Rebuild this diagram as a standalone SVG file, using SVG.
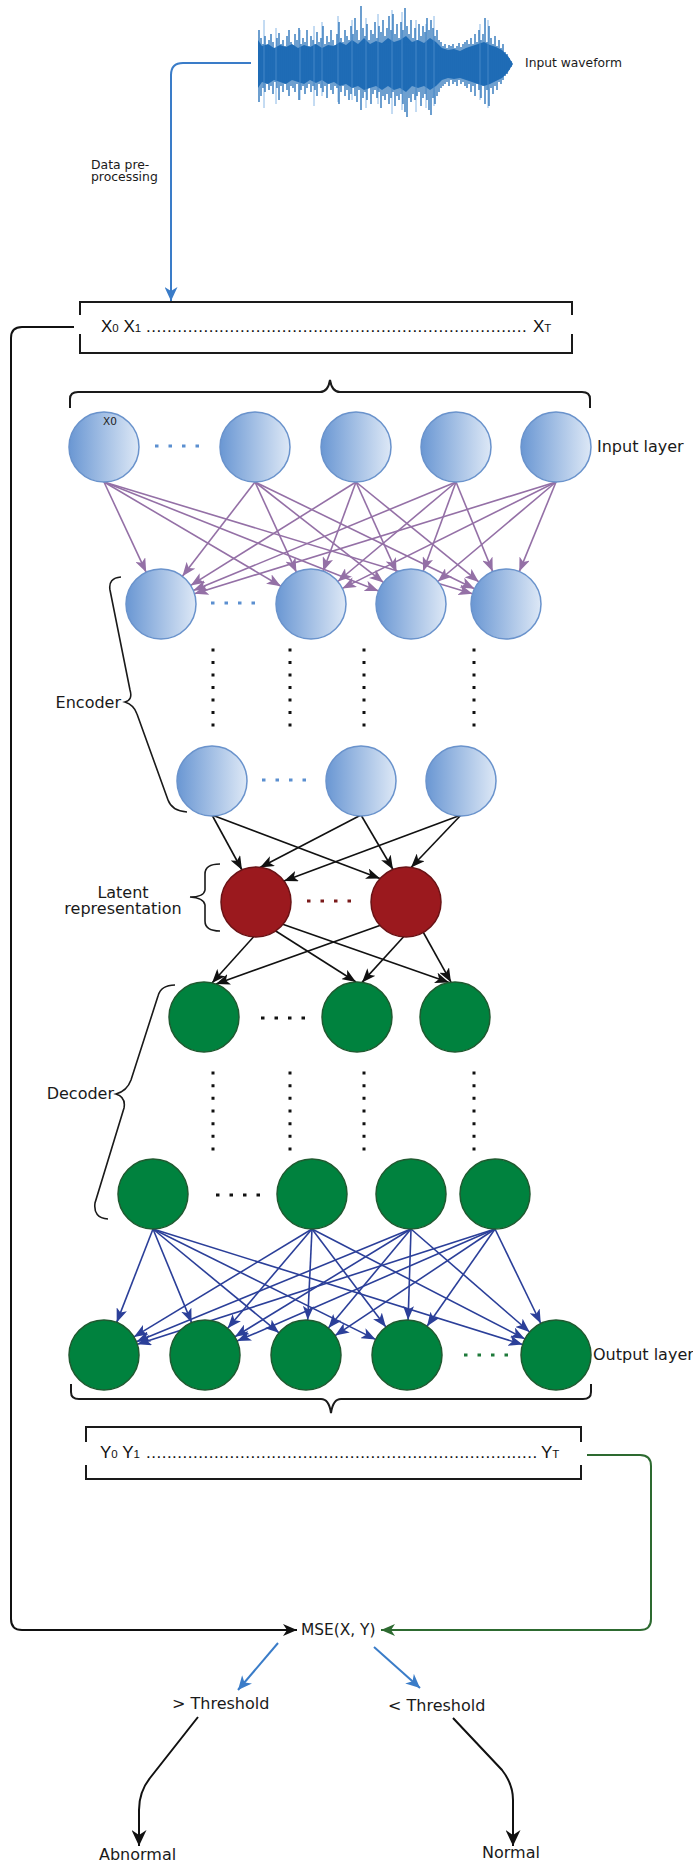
<svg xmlns="http://www.w3.org/2000/svg" width="693" height="1865" viewBox="0 0 693 1865">
<defs>
  <linearGradient id="gBlue" x1="0" y1="0" x2="1" y2="0">
    <stop offset="0" stop-color="#6a97d3"/>
    <stop offset="1" stop-color="#dde8f6"/>
  </linearGradient>
  <marker id="aPur" viewBox="0 0 14 11" refX="14" refY="5.5" markerWidth="14" markerHeight="11" markerUnits="userSpaceOnUse" orient="auto">
    <path d="M0,0 L14,5.5 L0,11 L3.5,5.5 z" fill="#9470a6"/>
  </marker>
  <marker id="aBlk" viewBox="0 0 14 11" refX="14" refY="5.5" markerWidth="14" markerHeight="11" markerUnits="userSpaceOnUse" orient="auto">
    <path d="M0,0 L14,5.5 L0,11 L3.5,5.5 z" fill="#111"/>
  </marker>
  <marker id="aNavy" viewBox="0 0 14 11" refX="14" refY="5.5" markerWidth="14" markerHeight="11" markerUnits="userSpaceOnUse" orient="auto">
    <path d="M0,0 L14,5.5 L0,11 L3.5,5.5 z" fill="#2b3f99"/>
  </marker>
  <marker id="aBlkL" viewBox="0 0 14 12" refX="14" refY="6" markerWidth="14" markerHeight="12" markerUnits="userSpaceOnUse" orient="auto">
    <path d="M0,0 L14,6 L0,12 L4,6 z" fill="#111"/>
  </marker>
  <marker id="aBlkXL" viewBox="0 0 16 15" refX="16" refY="7.5" markerWidth="16" markerHeight="15" markerUnits="userSpaceOnUse" orient="auto">
    <path d="M0,0 L16,7.5 L0,15 L5,7.5 z" fill="#111"/>
  </marker>
  <marker id="aGrn" viewBox="0 0 14 12" refX="14" refY="6" markerWidth="14" markerHeight="12" markerUnits="userSpaceOnUse" orient="auto">
    <path d="M0,0 L14,6 L0,12 L4,6 z" fill="#2d6a30"/>
  </marker>
  <marker id="aSky" viewBox="0 0 14 13" refX="14" refY="6.5" markerWidth="14" markerHeight="13" markerUnits="userSpaceOnUse" orient="auto">
    <path d="M0,0 L14,6.5 L0,13 L4,6.5 z" fill="#3a7cc8"/>
  </marker>
</defs>
<style>
  .t { font-family: "DejaVu Sans", sans-serif; font-size: 16px; fill: #1a1a1a; }
  .seq { font-family: "Liberation Sans", Arial, sans-serif; font-size: 17px; fill: #111; }
  .sub { font-size: 11.5px; }
  .nb { fill: url(#gBlue); stroke: #6a93cc; stroke-width: 1.5; }
  .nr { fill: #9b191e; stroke: #6a1215; stroke-width: 1.5; }
  .ng { fill: #00823e; stroke: #1f5a30; stroke-width: 1.5; }
  .bk { fill: none; stroke: #1a1a1a; stroke-width: 2; }
  .pur line { stroke: #9470a6; stroke-width: 1.6; marker-end: url(#aPur); }
  .blk line { stroke: #111; stroke-width: 1.6; marker-end: url(#aBlk); }
  .navy line { stroke: #2b3f99; stroke-width: 1.6; marker-end: url(#aNavy); }
  .hd { fill: none; stroke-width: 3; stroke-dasharray: 3.5 10; }
  .vd { fill: none; stroke: #111; stroke-width: 3; }
</style>

<!-- input waveform -->
<g id="waveform">
  <path fill="#1f6cb6" d="M258,40 262,46 268,44 274,48 280,45 286,47 292,44 298,48 304,45 310,47 316,44 322,48 328,45 334,46 340,42 346,45 352,40 358,44 364,38 370,44 376,41 382,43 388,38 394,42 400,40 406,36 412,42 418,40 424,43 430,38 436,42 442,48 448,50 454,49 460,51 466,48 472,46 478,44 484,42 490,45 496,47 502,50 508,56 513,64 508,72 502,78 496,81 490,84 484,86 478,84 472,82 466,80 460,78 454,79 448,78 442,80 436,86 430,90 424,86 418,88 412,86 406,92 400,88 394,90 388,86 382,90 376,86 370,88 364,90 358,86 352,88 346,84 340,86 334,82 328,84 322,80 316,83 310,80 304,84 298,82 292,80 286,84 280,82 274,80 268,84 262,82 258,88 z"/>
  <path fill="none" stroke="#8ab8e6" stroke-width="1" d="M264 20V108M276 28V104M300 30V100M314 26V106M322 22V96M338 16V102M352 20V100M366 18V108M378 14V104M392 10V114M402 12V110M416 20V112M426 24V108M434 16V106M480 24V100M488 20V108"/>
  <path fill="none" stroke="#1f6cb6" stroke-width="1.3" d="M259 30V102M261 38V96M263 44V88M265 36V92M267 46V84M269 40V90M271 34V86M273 42V94M275 48V82M277 38V88M279 33V100M281 44V86M283 40V92M285 46V84M287 36V90M289 30V96M291 42V86M293 45V88M295 34V92M297 40V84M299 28V100M301 44V90M303 38V86M305 42V94M307 30V88M309 46V84M311 36V92M313 40V86M315 44V90M317 32V96M319 42V84M321 38V88M323 26V92M325 44V86M327 36V98M329 42V84M331 30V90M333 40V94M335 45V86M337 34V88M339 22V104M341 38V92M343 42V86M345 30V96M347 36V90M349 40V100M351 26V94M353 34V88M355 18V96M357 30V102M359 40V90M361 6V110M363 28V98M365 36V92M367 24V100M369 40V88M371 30V104M373 34V94M375 22V90M377 38V98M379 26V92M381 32V108M383 20V96M385 36V100M387 28V94M389 16V104M391 30V98M393 14V92M395 34V106M397 24V96M399 38V100M401 22V94M403 30V104M405 8V112M407 26V117M409 34V98M411 20V102M413 38V94M415 28V100M417 40V96M419 24V92M421 36V106M423 26V98M425 32V94M427 18V100M429 30V110M431 20V115M433 28V98M435 36V104M437 30V96M439 40V92M441 42V88M443 46V86M445 44V84M447 48V82M449 45V86M451 46V80M453 44V84M455 48V82M457 46V86M459 43V80M461 47V84M463 44V82M465 42V86M467 40V88M469 44V84M471 38V92M473 44V86M475 34V96M477 42V84M479 30V90M481 40V98M483 34V86M485 18V104M487 42V90M489 26V106M491 38V88M493 44V94M495 36V86M497 46V90M499 40V82M501 48V84M503 44V80M505 52V76M507 54V74M509 58V70M511 61V67"/>
  <text class="t" x="525" y="67" style="font-size:12.3px">Input waveform</text>
</g>

<!-- connectors -->
<g id="connectors">
  <path d="M251 63 H183 Q171 63 171 75 V301" fill="none" stroke="#3a7cc8" stroke-width="2" marker-end="url(#aSky)"/>
  <path d="M74 327 H22 Q11 327 11 338 V1619 Q11 1630 22 1630 H297" fill="none" stroke="#111" stroke-width="2" marker-end="url(#aBlkL)"/>
  <path d="M587 1455 H640 Q651 1455 651 1466 V1619 Q651 1630 640 1630 H381" fill="none" stroke="#2d6a30" stroke-width="2" marker-end="url(#aGrn)"/>
  <line x1="278" y1="1643" x2="238" y2="1690" stroke="#3a7cc8" stroke-width="2" marker-end="url(#aSky)"/>
  <line x1="374" y1="1647" x2="420" y2="1688" stroke="#3a7cc8" stroke-width="2" marker-end="url(#aSky)"/>
  <path d="M198 1717 L150 1778 Q139 1792 139 1810 V1846" fill="none" stroke="#111" stroke-width="2" marker-end="url(#aBlkXL)"/>
  <path d="M453 1718 L502 1770 Q513 1784 513 1800 V1846" fill="none" stroke="#111" stroke-width="2" marker-end="url(#aBlkXL)"/>

  <g class="pur">
    <line x1="104" y1="482" x2="146.2" y2="572.3"/>
    <line x1="104" y1="482" x2="280.9" y2="586.2"/>
    <line x1="104" y1="482" x2="378.5" y2="591.1"/>
    <line x1="104" y1="482" x2="472.5" y2="593.8"/>
    <line x1="255" y1="482" x2="182.4" y2="576.3"/>
    <line x1="255" y1="482" x2="296.4" y2="572.2"/>
    <line x1="255" y1="482" x2="383.4" y2="582.4"/>
    <line x1="255" y1="482" x2="474.5" y2="588.7"/>
    <line x1="356" y1="482" x2="190.7" y2="585.4"/>
    <line x1="356" y1="482" x2="323.1" y2="571.2"/>
    <line x1="356" y1="482" x2="396.6" y2="572.1"/>
    <line x1="356" y1="482" x2="478.8" y2="581.9"/>
    <line x1="456" y1="482" x2="193.3" y2="590.6"/>
    <line x1="456" y1="482" x2="337.8" y2="581.5"/>
    <line x1="456" y1="482" x2="423.1" y2="571.2"/>
    <line x1="456" y1="482" x2="492.7" y2="571.6"/>
    <line x1="556" y1="482" x2="194.4" y2="593.7"/>
    <line x1="556" y1="482" x2="342.3" y2="588.4"/>
    <line x1="556" y1="482" x2="437.8" y2="581.5"/>
    <line x1="556" y1="482" x2="519.3" y2="571.6"/>
  </g>
  <g class="blk">
    <line x1="212" y1="815" x2="242" y2="870"/>
    <line x1="212" y1="815" x2="380" y2="878.6"/>
    <line x1="361" y1="815" x2="260" y2="867.5"/>
    <line x1="361" y1="815" x2="393" y2="869.5"/>
    <line x1="461" y1="815" x2="284" y2="881"/>
    <line x1="461" y1="815" x2="411" y2="867.5"/>
    <line x1="257" y1="933" x2="212" y2="983"/>
    <line x1="271" y1="928" x2="356" y2="982"/>
    <line x1="282" y1="924" x2="449" y2="982.5"/>
    <line x1="384" y1="924" x2="216" y2="984"/>
    <line x1="407" y1="933" x2="362" y2="982.4"/>
    <line x1="422" y1="930" x2="451" y2="982.2"/>
  </g>
  <g class="navy">
    <line x1="153" y1="1229" x2="116.7" y2="1322.4"/>
    <line x1="153" y1="1229" x2="191.6" y2="1322.6"/>
    <line x1="153" y1="1229" x2="279" y2="1332.8"/>
    <line x1="153" y1="1229" x2="375.6" y2="1339.4"/>
    <line x1="153" y1="1229" x2="522.6" y2="1344.6"/>
    <line x1="312" y1="1229" x2="133.9" y2="1336.9"/>
    <line x1="312" y1="1229" x2="227.7" y2="1328.3"/>
    <line x1="312" y1="1229" x2="307.7" y2="1320"/>
    <line x1="312" y1="1229" x2="385.9" y2="1327.1"/>
    <line x1="312" y1="1229" x2="524.9" y2="1338.9"/>
    <line x1="411" y1="1229" x2="136.4" y2="1341.7"/>
    <line x1="411" y1="1229" x2="234.9" y2="1336.7"/>
    <line x1="411" y1="1229" x2="328.4" y2="1328.1"/>
    <line x1="411" y1="1229" x2="408.1" y2="1320"/>
    <line x1="411" y1="1229" x2="529.6" y2="1332"/>
    <line x1="495" y1="1229" x2="137.3" y2="1344.3"/>
    <line x1="495" y1="1229" x2="237.1" y2="1341.1"/>
    <line x1="495" y1="1229" x2="335.1" y2="1335.6"/>
    <line x1="495" y1="1229" x2="427" y2="1326.3"/>
    <line x1="495" y1="1229" x2="540.8" y2="1323.5"/>
  </g>
</g>

<!-- preprocessing label -->
<g id="preprocess">
  <text class="t" style="font-size:12.4px" x="91" y="169">Data pre-</text>
  <text class="t" style="font-size:12.4px" x="91" y="181">processing</text>
</g>

<!-- input sequence -->
<g id="seqX">
  <path class="bk" d="M80 315 V302 H572 V315 M80 334 V353 H572 V334"/>
  <text class="seq" x="101" y="332">X<tspan class="sub">0</tspan> X<tspan class="sub">1</tspan></text>
  <text class="seq" x="146" y="332" letter-spacing="0.5">.........................................................................</text>
  <text class="seq" x="533" y="332">X<tspan class="sub">T</tspan></text>
</g>

<path id="braceTop" class="bk" d="M70 408 V399 Q70 392 78 392 H320 Q328 392 330 380 Q332 392 340 392 H582 Q590 392 590 399 V408"/>

<!-- input layer -->
<g id="in1"><circle class="nb" cx="104" cy="447" r="35"/><text x="103" y="425" style="font-family:'DejaVu Sans',sans-serif;font-size:10.5px;fill:#222">X0</text></g>
<g id="in2"><circle class="nb" cx="255" cy="447" r="35"/></g>
<g id="in3"><circle class="nb" cx="356" cy="447" r="35"/></g>
<g id="in4"><circle class="nb" cx="456" cy="447" r="35"/></g>
<g id="in5"><circle class="nb" cx="556" cy="447" r="35"/></g>
<line class="hd" stroke="#5b8fd0" x1="155" y1="446" x2="200" y2="446"/>
<text class="t" x="597" y="452">Input layer</text>

<!-- encoder -->
<g id="enc1a"><circle class="nb" cx="161" cy="604" r="35"/></g>
<g id="enc1b"><circle class="nb" cx="311" cy="604" r="35"/></g>
<g id="enc1c"><circle class="nb" cx="411" cy="604" r="35"/></g>
<g id="enc1d"><circle class="nb" cx="506" cy="604" r="35"/></g>
<line class="hd" stroke="#5b8fd0" x1="211" y1="603" x2="256" y2="603"/>

<g id="encDots">
  <line class="vd" stroke-dasharray="3 9.5" x1="213" y1="648.5" x2="213" y2="726.5"/>
  <line class="vd" stroke-dasharray="3 9.5" x1="290" y1="648.5" x2="290" y2="726.5"/>
  <line class="vd" stroke-dasharray="3 9.5" x1="364" y1="648.5" x2="364" y2="726.5"/>
  <line class="vd" stroke-dasharray="3 9.5" x1="474" y1="648.5" x2="474" y2="726.5"/>
</g>

<g id="enc2a"><circle class="nb" cx="212" cy="781" r="35"/></g>
<g id="enc2b"><circle class="nb" cx="361" cy="781" r="35"/></g>
<g id="enc2c"><circle class="nb" cx="461" cy="781" r="35"/></g>
<line class="hd" stroke="#5b8fd0" x1="262" y1="780" x2="307" y2="780"/>

<g id="encoderLabel">
  <path class="bk" style="stroke-width:1.6" d="M121 577 Q108 578 110 590 L130 690 Q133 700 125 702 Q134 705 137 714 L168 800 Q172 811 187 812"/>
  <text class="t" x="121" y="708" text-anchor="end">Encoder</text>
</g>

<!-- latent representation -->
<g id="lat1"><circle class="nr" cx="256" cy="902" r="35"/></g>
<g id="lat2"><circle class="nr" cx="406" cy="902" r="35"/></g>
<line class="hd" stroke="#7a1a1a" x1="307" y1="901" x2="352" y2="901"/>
<g id="latentLabel">
  <path class="bk" style="stroke-width:1.6" d="M220 864 Q205 864 205 874 V890 Q204 897 190 897 Q204 898 205 905 V921 Q205 931 220 931"/>
  <text class="t" x="123" y="898" text-anchor="middle">Latent</text>
  <text class="t" x="123" y="914" text-anchor="middle">representation</text>
</g>

<!-- decoder -->
<g id="dec1a"><circle class="ng" cx="204" cy="1017" r="35"/></g>
<g id="dec1b"><circle class="ng" cx="357" cy="1017" r="35"/></g>
<g id="dec1c"><circle class="ng" cx="455" cy="1017" r="35"/></g>
<line class="hd" stroke="#111" x1="261" y1="1018" x2="306" y2="1018"/>

<g id="decDots">
  <line class="vd" stroke-dasharray="3 9.67" x1="213" y1="1071.5" x2="213" y2="1150.5"/>
  <line class="vd" stroke-dasharray="3 9.67" x1="290" y1="1071.5" x2="290" y2="1150.5"/>
  <line class="vd" stroke-dasharray="3 9.67" x1="364" y1="1071.5" x2="364" y2="1150.5"/>
  <line class="vd" stroke-dasharray="3 9.67" x1="474" y1="1071.5" x2="474" y2="1150.5"/>
</g>

<g id="dec2a"><circle class="ng" cx="153" cy="1194" r="35"/></g>
<g id="dec2b"><circle class="ng" cx="312" cy="1194" r="35"/></g>
<g id="dec2c"><circle class="ng" cx="411" cy="1194" r="35"/></g>
<g id="dec2d"><circle class="ng" cx="495" cy="1194" r="35"/></g>
<line class="hd" stroke="#111" x1="216" y1="1195" x2="261" y2="1195"/>

<g id="decoderLabel">
  <path class="bk" style="stroke-width:1.6" d="M175 985 Q161 985 158 996 L131 1080 Q127 1091 116 1094 Q126 1097 124 1108 L95 1203 Q93 1218 108 1219"/>
  <text class="t" x="114" y="1099" text-anchor="end">Decoder</text>
</g>

<!-- output layer -->
<g id="out1"><circle class="ng" cx="104" cy="1355" r="35"/></g>
<g id="out2"><circle class="ng" cx="205" cy="1355" r="35"/></g>
<g id="out3"><circle class="ng" cx="306" cy="1355" r="35"/></g>
<g id="out4"><circle class="ng" cx="407" cy="1355" r="35"/></g>
<g id="out5"><circle class="ng" cx="556" cy="1355" r="35"/></g>
<line class="hd" stroke="#1e7a3a" x1="464" y1="1355" x2="509" y2="1355"/>
<text class="t" x="593" y="1360">Output layer</text>

<path id="braceBottom" class="bk" d="M71 1384 V1392 Q71 1399 79 1399 H321 Q329 1399 331 1413 Q333 1399 341 1399 H583 Q591 1399 591 1392 V1384"/>

<!-- reconstructed sequence -->
<g id="seqY">
  <path class="bk" d="M86 1442 V1427 H581 V1442 M86 1465 V1479 H581 V1465"/>
  <text class="seq" x="100" y="1458">Y<tspan class="sub">0</tspan> Y<tspan class="sub">1</tspan></text>
  <text class="seq" x="146" y="1458" letter-spacing="0.5">...........................................................................</text>
  <text class="seq" x="541" y="1458">Y<tspan class="sub">T</tspan></text>
</g>

<!-- error and decision -->
<g id="mse"><text class="t" x="301" y="1635" style="font-size:15.4px">MSE(X, Y)</text></g>
<g id="above"><text class="t" x="172" y="1709">&gt; Threshold</text></g>
<g id="below"><text class="t" x="388" y="1711">&lt; Threshold</text></g>
<g id="abnormal"><text class="t" x="99" y="1860">Abnormal</text></g>
<g id="normal"><text class="t" x="482" y="1858">Normal</text></g>
</svg>
